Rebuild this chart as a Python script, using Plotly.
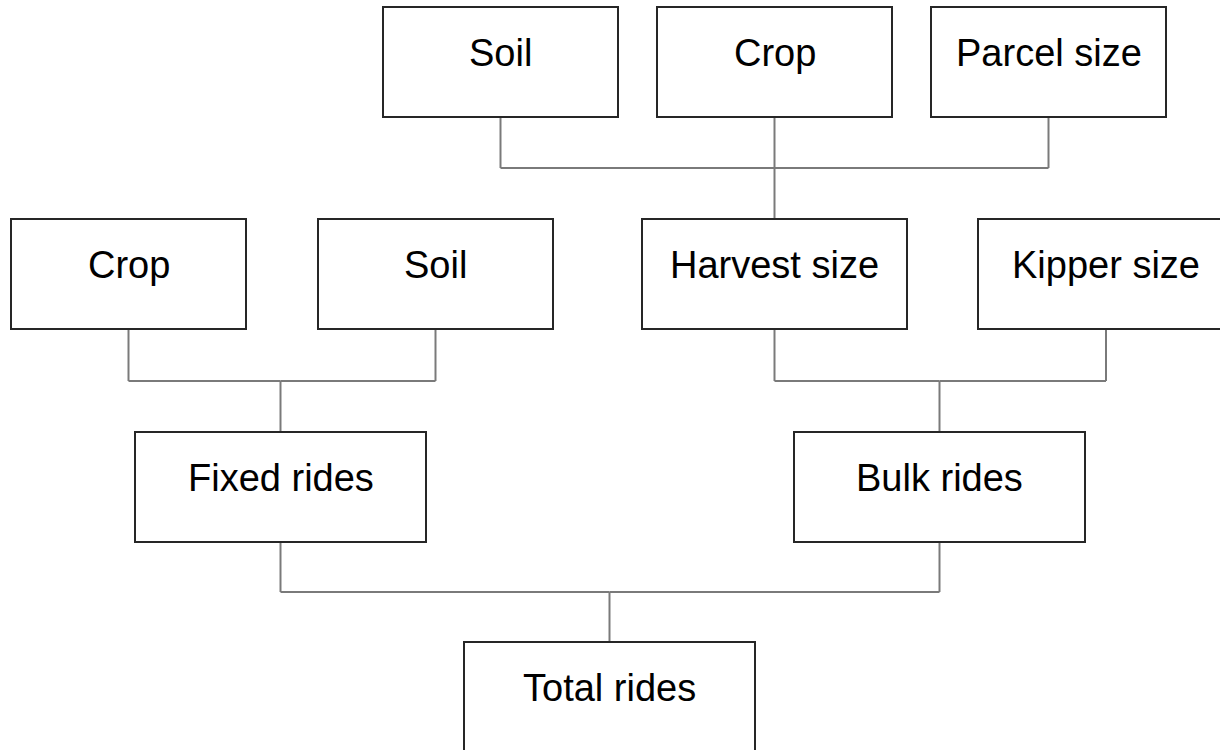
import plotly.graph_objects as go

# ---- data: node labels and tree structure ----
node_ids = ["soil_top", "crop_top", "parcel", "crop_mid", "soil_mid",
            "harvest", "kipper", "fixed", "bulk", "total"]
node_labels = ["Soil", "Crop", "Parcel size", "Crop", "Soil",
               "Harvest size", "Kipper size", "Fixed rides", "Bulk rides", "Total rides"]
parents = ["harvest", "harvest", "harvest", "fixed", "fixed",
           "bulk", "bulk", "total", "total", None]

# ---- layout (positions, in pixels) ----
box_x0 = [383, 657, 931, 11, 318, 642, 978, 135, 794, 464]
box_x1 = [618, 892, 1166, 246, 553, 907, 1234, 426, 1085, 755]
row_of = [0, 0, 0, 1, 1, 1, 1, 2, 2, 3]
row_y0 = [7, 219, 432, 642]
row_y1 = [117, 329, 542, 752]
junction_y = [168, 381, 592]
text_offset = 46

W, H = 1220, 750
fig = go.Figure()

shapes = []
annotations = []
idx = {n: i for i, n in enumerate(node_ids)}

def cx(i):
    return (box_x0[i] + box_x1[i]) / 2

line_style = dict(color="#7a7a7a", width=2)

# connectors
for i, p in enumerate(parents):
    if p is None:
        continue
    j = idx[p]
    r = row_of[i]
    jy = junction_y[r]
    shapes.append(dict(type="line", x0=cx(i), x1=cx(i), y0=row_y1[r], y1=jy,
                       line=line_style, xref="x", yref="y"))
    shapes.append(dict(type="line", x0=cx(i), x1=cx(j), y0=jy, y1=jy,
                       line=line_style, xref="x", yref="y"))
for j, n in enumerate(node_ids):
    kids = [i for i, p in enumerate(parents) if p == n]
    if not kids:
        continue
    jy = junction_y[row_of[kids[0]]]
    shapes.append(dict(type="line", x0=cx(j), x1=cx(j), y0=jy, y1=row_y0[row_of[j]],
                       line=line_style, xref="x", yref="y"))

# boxes
for i, lab in enumerate(node_labels):
    r = row_of[i]
    shapes.append(dict(type="rect", x0=box_x0[i], x1=box_x1[i], y0=row_y0[r], y1=row_y1[r],
                       line=dict(color="#262626", width=2), fillcolor="white",
                       xref="x", yref="y", layer="above"))
    annotations.append(dict(x=cx(i), y=row_y0[r] + text_offset, text=lab, showarrow=False,
                            xref="x", yref="y", xanchor="center", yanchor="middle",
                            font=dict(family="Liberation Sans, Arial", size=38, color="#000000")))

fig.update_layout(
    width=W, height=H,
    margin=dict(l=0, r=0, t=0, b=0),
    paper_bgcolor="white", plot_bgcolor="white",
    xaxis=dict(range=[0, W], visible=False, fixedrange=True),
    yaxis=dict(range=[H, 0], visible=False, fixedrange=True),
    shapes=shapes, annotations=annotations, showlegend=False,
)

fig.write_html("out.html", config={"displayModeBar": False},
               post_script="document.body.style.margin='0';document.body.style.overflow='hidden';")
